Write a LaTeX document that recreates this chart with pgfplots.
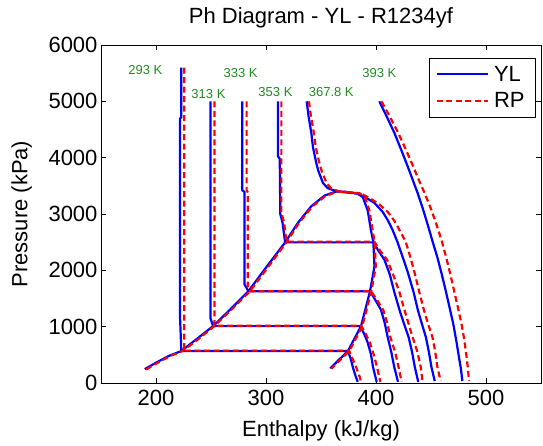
\documentclass[border=0pt]{standalone}
\usepackage{fontspec}
\setmainfont{Liberation Sans}
\usepackage{pgfplots}
\pgfplotsset{compat=1.18}
\definecolor{isogreen}{RGB}{34,139,34}
\tikzset{iso/.style={font=\fontsize{13}{15}\selectfont, text=isogreen}}

\begin{document}
\begin{tikzpicture}
\begin{axis}[
  name=ph,
  scale only axis,
  width=440pt, height=338pt,
  xmin=150, xmax=550, ymin=0, ymax=6000,
  xtick={200,300,400,500},
  ytick={0,1000,...,6000},
  scaled ticks=false,
  /pgf/number format/1000 sep={},
  /pgf/number format/assume math mode=true,
  tick label style={font=\fontsize{22}{26}\selectfont},
  xticklabel style={yshift=-4pt},
  label style={font=\fontsize{22}{26}\selectfont},
  title={Ph Diagram - YL - R1234yf},
  title style={font=\fontsize{22}{26}\selectfont, at={(axis description cs:0.5,1.062)}, anchor=center},
  xlabel={Enthalpy (kJ/kg)},
  ylabel={Pressure (kPa)},
  xlabel style={at={(axis description cs:0.5,-0.142)}, anchor=center},
  ylabel style={at={(axis description cs:-0.18,0.5)}, anchor=center},
  tick align=inside,
  major tick length=5pt,
  axis line style={line width=0.8pt},
  every tick/.style={black, line width=0.8pt},
  legend style={at={(axis description cs:0.9886,0.963)}, anchor=north east,
    font=\fontsize{22}{26}\selectfont, draw=black, line width=0.8pt,
    inner xsep=6pt, inner ysep=6pt, row sep=6pt,
    cells={anchor=west}, nodes={inner xsep=5pt}},
  legend image code/.code={\draw[#1] (0pt,0pt) -- (51pt,0pt);},
  yl/.style={blue, line width=2.2pt, line join=round},
  rp/.style={red, line width=2.2pt, dash pattern=on 6pt off 3.5pt, line join=round},
]
\addlegendimage{yl}\addlegendentry{YL}
\addlegendimage{rp}\addlegendentry{RP}

% ---------- YL ----------
% saturation dome
\addplot[yl, forget plot] coordinates {
 (189.8,247) (200,360) (211.5,479) (223,568) (237,780) (251.9,1010)
 (268.8,1330) (284,1630) (302,2100) (317.4,2496) (329,2842) (341.2,3138)
 (353.3,3328) (363.8,3400) (372,3395) (383,3362) (388,3300) (392.5,3060)
 (395.5,2700) (397.6,2496) (398.6,2070) (394.6,1630) (386.4,1010)
 (374.5,568) (358.4,260)};
% 293 K
\addplot[yl, forget plot] coordinates {
 (223,5600) (223,4720) (221.8,4690) (221.8,1200) (223,568) (374.5,568)
 (377,430) (378.9,283) (381.5,120) (383.4,20)};
% 313 K
\addplot[yl, forget plot] coordinates {
 (249.5,5000) (249.5,1150) (251.9,1010) (385.6,1010) (389.5,860)
 (392.5,715) (395.5,500) (397.3,283) (400.6,20)};
% 333 K
\addplot[yl, forget plot] coordinates {
 (278.5,5000) (278.5,3420) (280.5,3390) (280.5,1750) (284,1630)
 (394.6,1630) (399.5,1470) (404.5,1300) (408,1060) (410.6,817)
 (414,540) (416.6,283) (420,20)};
% 353 K
\addplot[yl, forget plot] coordinates {
 (311,5000) (311,4020) (312.5,3980) (313,3000) (315,2850) (317.4,2496)
 (397.6,2496) (402.5,2340) (407.6,2190) (412.5,1930) (416.6,1618)
 (421.3,1300) (425.3,1060) (429.6,817) (432.7,560) (435.3,283) (438.4,20)};
% 367.8 K
\addplot[yl, forget plot] coordinates {
 (337,5000) (338.8,4720) (341.2,4440) (342.7,4187) (345.7,3906)
 (347.5,3770) (351.8,3550) (356,3460) (363.8,3405) (372,3385)
 (383.4,3364) (390,3300) (398.5,3198) (406,3040) (411,2880) (415,2720)
 (419.4,2508) (424,2250) (428.7,1980) (434.1,1618) (438,1300)
 (441.7,1050) (445.3,817) (448,560) (450.4,283) (453.4,34)};
% 393 K
\addplot[yl, forget plot] coordinates {
 (403,5000) (410,4720) (416.7,4440) (422.7,4150) (428.7,3850)
 (433.5,3600) (437.7,3380) (442.5,3100) (446.8,2823) (451.5,2508)
 (455.8,2229) (459.8,1930) (463.4,1636) (467,1330) (470.3,1043)
 (473,750) (475.5,450) (477.2,250) (478.5,36)};

% ---------- RP ----------
\addplot[rp, forget plot] coordinates {
 (191,240) (201.5,360) (213,479) (224.8,575) (238.5,780) (253,1010)
 (270,1330) (285.5,1630) (303.5,2100) (318.7,2500) (330,2842) (342,3130)
 (354,3320) (364.5,3395) (373,3390) (385,3370) (390,3300) (394,3060)
 (397,2700) (398.8,2496) (399.8,2070) (395.8,1630) (387.6,1010)
 (375.8,570) (359.5,255)};
\addplot[rp, forget plot] coordinates {
 (225.7,5600) (225.7,640) (224.8,575) (375.5,575) (378.5,440) (381.9,283)
 (385,120) (386.4,20)};
\addplot[rp, forget plot] coordinates {
 (253.1,5000) (253.1,1100) (252.8,1015) (386.6,1015) (391,860)
 (394.5,715) (398,500) (400.9,283) (404,20)};
\addplot[rp, forget plot] coordinates {
 (282.4,5000) (282.4,3420) (283.5,3380) (283.5,1700) (285,1630)
 (395.5,1630) (401,1470) (406.5,1300) (410.3,1060) (413,817)
 (417.5,540) (420.5,283) (423.3,20)};
\addplot[rp, forget plot] coordinates {
 (314,5000) (314,3020) (316.5,2850) (318.5,2510) (398.5,2510)
 (404,2340) (410,2190) (415.5,1930) (421.2,1618) (425.8,1300)
 (429.5,1060) (433.2,817) (437.5,560) (440.7,283) (442.3,20)};
\addplot[rp, forget plot] coordinates {
 (339,5000) (341,4720) (343.5,4440) (345.2,4187) (348.5,3906)
 (350.5,3770) (355,3550) (359.5,3450) (366,3405) (375,3385)
 (386,3364) (393.5,3290) (402.5,3180) (411,3030) (417,2870)
 (421.5,2710) (427,2508) (431,2250) (434.8,1980) (439.3,1618)
 (443.5,1300) (447.3,1050) (451.3,817) (453.8,560) (455.8,283) (458.8,34)};
\addplot[rp, forget plot] coordinates {
 (405,5000) (412.8,4720) (420.2,4440) (427,4150) (433.7,3850)
 (439,3600) (444,3380) (449.8,3100) (454.8,2823) (460,2508)
 (463.8,2229) (467.6,1930) (471,1636) (474.6,1330) (477.8,1043)
 (480.4,750) (482.4,450) (483.6,250) (484.5,36)};

% isotherm labels
\node[iso] at (axis cs:190.4,5555) {293 K};
\node[iso] at (axis cs:247.7,5137) {313 K};
\node[iso] at (axis cs:277,5504) {333 K};
\node[iso] at (axis cs:308.6,5166) {353 K};
\node[iso] at (axis cs:359.3,5166) {367.8 K};
\node[iso] at (axis cs:403,5504) {393 K};
\end{axis}
\pgfresetboundingbox
\path ([shift={(-101pt,-63pt)}]ph.south west) rectangle ([shift={(2pt,45pt)}]ph.north east);
\end{tikzpicture}
\end{document}
